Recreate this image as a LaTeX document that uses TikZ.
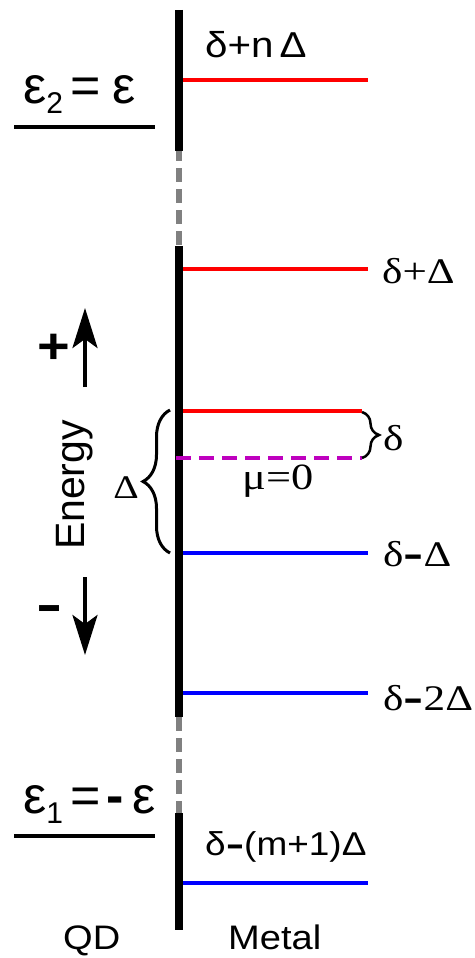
\documentclass[tikz,border=0pt]{standalone}
\usepackage{fontspec}
\setmainfont{Liberation Sans}
\newfontfamily\mysans[FakeStretch=1.12]{Liberation Sans}
\newfontfamily\myserif[FakeStretch=1.2]{Liberation Serif}
\usetikzlibrary{decorations.pathreplacing,arrows.meta}
\newcommand{\bhy}{{\mysans\bfseries\scalebox{1.5}[1]{-}}}
\begin{document}
\begin{tikzpicture}[x=1pt,y=-1pt,
  qd/.style={line width=8pt,black},
  gapline/.style={line width=6pt,gray,dash pattern=on 14pt off 7pt},
  lvred/.style={line width=4.5pt,red},
  lvblue/.style={line width=4.5pt,blue},
  lvqd/.style={line width=4pt,black},
  lvmu/.style={line width=4pt,color={rgb,255:red,190;green,0;blue,190},dash pattern=on 15pt off 8pt},
  lbl/.style={inner sep=0pt,anchor=base west},
  brc/.style={decorate,decoration={brace,amplitude=#1}},
  earrow/.style={line width=4pt,-{Stealth[length=40pt,width=25pt,inset=9pt]}},
  ]
\useasboundingbox (0,0) rectangle (474,958);
% vertical axis
\coordinate (q1) at (179,10);
\coordinate (q2) at (179,151);
\coordinate (q3) at (179,246);
\coordinate (q4) at (179,717);
\coordinate (q5) at (179,813);
\coordinate (q6) at (179,930);
\draw[gapline,dash phase=4pt] (q2) -- (q3);
\draw[gapline] (q4) -- (q5);
\draw[qd] (q1) -- (q2);
\draw[qd] (q3) -- (q4);
\draw[qd] (q5) -- (q6);
% metal levels
\coordinate (r1a) at (183,80);  \coordinate (r1b) at (368,80);
\coordinate (r2a) at (183,269); \coordinate (r2b) at (368,269);
\coordinate (r3a) at (183,411); \coordinate (r3b) at (362,411);
\coordinate (mua) at (176,458); \coordinate (mub) at (362,458);
\coordinate (b1a) at (183,553); \coordinate (b1b) at (368,553);
\coordinate (b2a) at (183,693); \coordinate (b2b) at (368,693);
\coordinate (b3a) at (183,883); \coordinate (b3b) at (368,883);
\draw[lvred] (r1a) -- (r1b);
\draw[lvred] (r2a) -- (r2b);
\draw[lvred] (r3a) -- (r3b);
\draw[lvmu] (mua) -- (mub);
\draw[lvblue] (b1a) -- (b1b);
\draw[lvblue] (b2a) -- (b2b);
\draw[lvblue] (b3a) -- (b3b);
% QD levels
\coordinate (e2a) at (14,127); \coordinate (e2b) at (155,127);
\coordinate (e1a) at (14,836); \coordinate (e1b) at (155,836);
\draw[lvqd] (e2a) -- (e2b);
\draw[lvqd] (e1a) -- (e1b);
% braces
\coordinate (B1) at (170,553); \coordinate (B2) at (170,410);
\draw[line width=3pt,brc=27pt] (B1) -- (B2);
\coordinate (S1) at (362,412); \coordinate (S2) at (362,458);
\draw[line width=2.5pt,brc=17pt] (S1) -- (S2);
% energy arrows
\coordinate (u1) at (85,387); \coordinate (u2) at (85,308);
\coordinate (d1) at (85,577); \coordinate (d2) at (85,655);
\draw[earrow] (u1) -- (u2);
\draw[earrow] (d1) -- (d2);
% labels
\node[lbl] (tn) at (205,58) {\mysans\fontsize{36}{36}\selectfont δ+n\,Δ};
\node[lbl] (e2) at (23,103) {\fontsize{52}{52}\selectfont ε\raisebox{-10pt}{\fontsize{30}{30}\selectfont 2}\hspace{7pt}=\hspace{12pt}ε};
\node[lbl] (t1) at (382,283) {\myserif\fontsize{36}{36}\selectfont δ+Δ};
\node[lbl] (td) at (383,450) {\myserif\fontsize{36}{36}\selectfont δ};
\node[lbl] (mu) at (242,489) {\myserif\fontsize{37}{37}\selectfont μ=0};
\node[lbl] (tm1) at (383,566) {\myserif\fontsize{36}{36}\selectfont δ\bhy Δ};
\node[lbl] (tm2) at (383,710) {\myserif\fontsize{36}{36}\selectfont δ\bhy 2Δ};
\node[lbl] (tmm) at (205,855) {\mysans\fontsize{33}{33}\selectfont δ\bhy(m+1)Δ};
\node[lbl] (e1) at (23,813) {\fontsize{52}{52}\selectfont ε\raisebox{-10pt}{\fontsize{30}{30}\selectfont 1}\hspace{7pt}=\hspace{6pt}{\bfseries -}\hspace{9pt}ε};
\node[lbl] (qdl) at (63,949) {\mysans\fontsize{34}{34}\selectfont QD};
\node[lbl] (mtl) at (228,949) {\mysans\fontsize{34}{34}\selectfont Metal};
\node[inner sep=0pt,rotate=90] (en) at (75,485) {\fontsize{41}{41}\selectfont Energy};
\node[inner sep=0pt] (bD) at (126,488) {\myserif\fontsize{33}{33}\selectfont Δ};
\node[inner sep=0pt] (pl) at (54,349) {\mysans\bfseries\fontsize{50}{50}\selectfont +};
\node[inner sep=0pt] (mi) at (50,614) {\mysans\bfseries\fontsize{50}{50}\selectfont\scalebox{1.4}[1]{-}};
\end{tikzpicture}
\end{document}
